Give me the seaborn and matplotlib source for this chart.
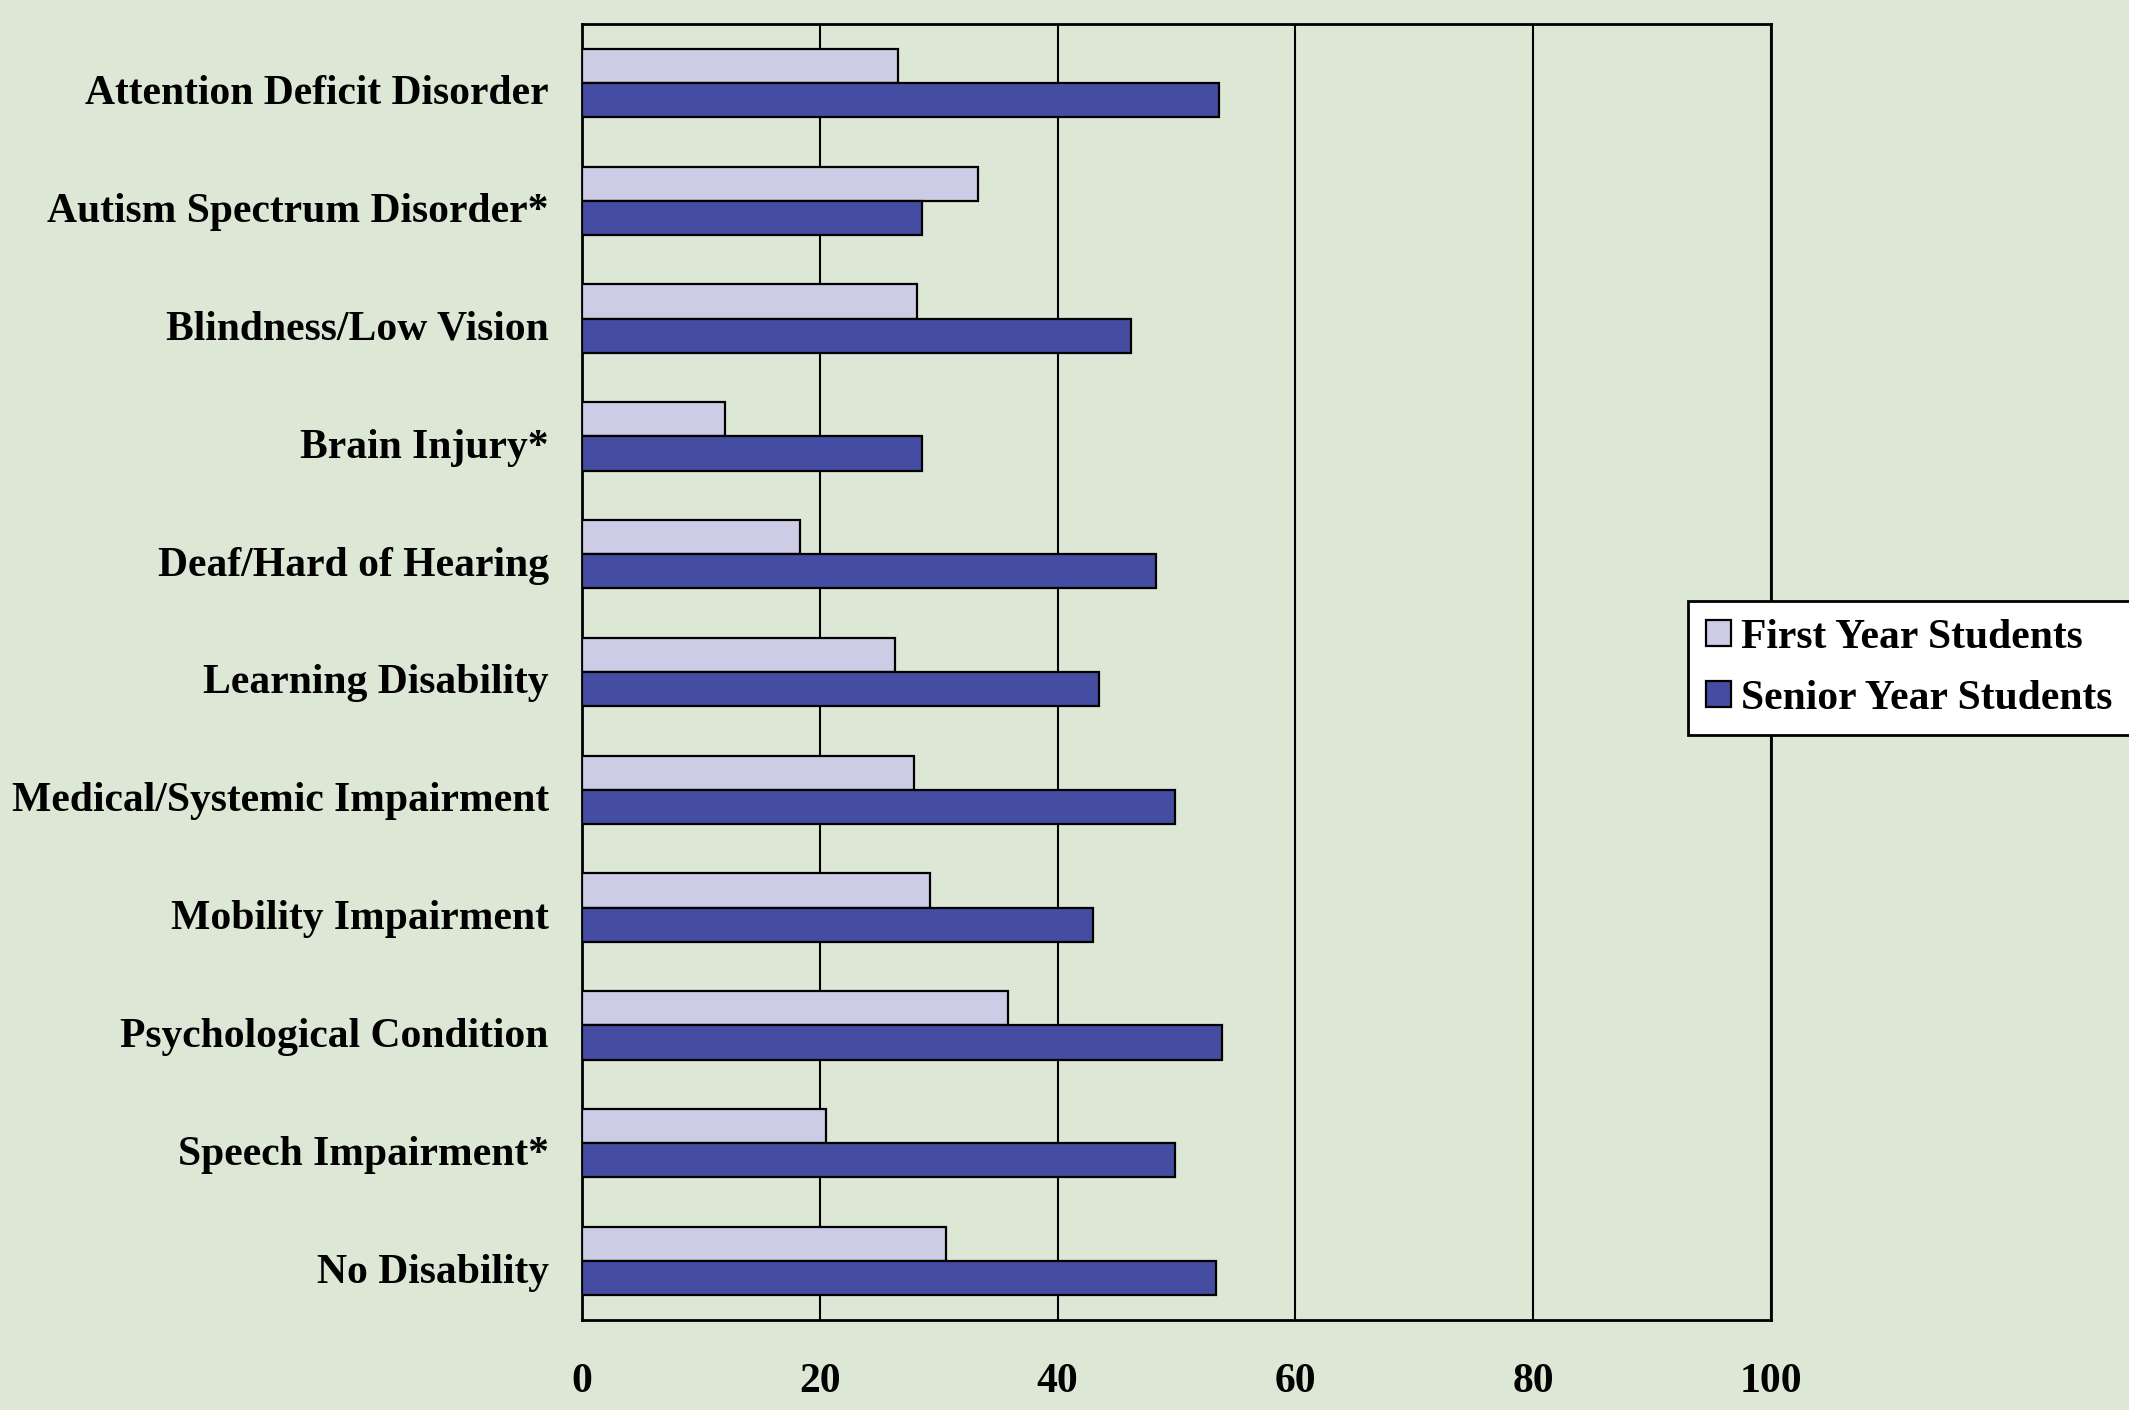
import pandas as pd
import matplotlib
matplotlib.use("Agg")
import matplotlib.pyplot as plt
import matplotlib.transforms as mtransforms
import seaborn as sns
import numpy as np

categories = [
    "Attention Deficit Disorder",
    "Autism Spectrum Disorder*",
    "Blindness/Low Vision",
    "Brain Injury*",
    "Deaf/Hard of Hearing",
    "Learning Disability",
    "Medical/Systemic Impairment",
    "Mobility Impairment",
    "Psychological Condition",
    "Speech Impairment*",
    "No Disability",
]
first_year = [26.6, 33.3, 28.2, 12.0, 18.3, 26.3, 27.9, 29.3, 35.8, 20.5, 30.6]
senior_year = [53.6, 28.6, 46.2, 28.6, 48.3, 43.5, 49.9, 43.0, 53.8, 49.9, 53.3]
groups = ["First Year Students", "Senior Year Students"]
xticks = [0, 20, 40, 60, 80, 100]

bg = "#DDE7D6"
palette = {"First Year Students": "#CDCCE7", "Senior Year Students": "#444DA1"}

df = pd.DataFrame({
    "Category": categories * 2,
    "Percent": first_year + senior_year,
    "Group": [groups[0]] * len(categories) + [groups[1]] * len(categories),
})

sns.set_style("white")
plt.rcParams["font.family"] = ["Liberation Serif", "DejaVu Serif"]
plt.rcParams["font.weight"] = "bold"
plt.rcParams["text.color"] = "black"
plt.rcParams["xtick.color"] = "black"
plt.rcParams["ytick.color"] = "black"

fig = plt.figure(figsize=(21.29, 14.10), dpi=100, facecolor=bg)
ax = fig.add_axes([0.2734, 0.0638, 0.5584, 0.9192])
ax.set_facecolor(bg)

sns.barplot(data=df, y="Category", x="Percent", hue="Group", order=categories,
            hue_order=groups, palette=palette, orient="h", width=0.58,
            edgecolor="black", linewidth=1.6, saturation=1, ax=ax, zorder=3)

ax.set_xlim(0, 100)
ax.set_ylim(len(categories) - 0.5, -0.5)
ax.set_xticks(xticks)
ax.set_xticklabels([str(t) for t in xticks], fontsize=30, fontweight="bold")
ax.tick_params(axis="x", length=15, width=1.5, color="black", pad=16, direction="out")
ax.set_yticks(range(len(categories)))
ax.set_yticklabels(categories, fontsize=30, fontweight="bold", va="center_baseline")
ax.tick_params(axis="y", which="major", length=0, pad=24)
ax.set_yticks(np.arange(-0.5, len(categories), 1.0), minor=True)
ax.tick_params(axis="y", which="minor", length=15, width=1.5, color="black", direction="out")
ax.xaxis.grid(True, color="black", linewidth=1.5, zorder=0)
ax.yaxis.grid(False)
ax.set_axisbelow(True)
ax.set_xlabel("")
ax.set_ylabel("")
for s in ax.spines.values():
    s.set_visible(True)
    s.set_color("black")
    s.set_linewidth(2)

# nudge category labels down a little, like the original
shift = mtransforms.ScaledTranslation(0, -5 / 72, fig.dpi_scale_trans)
for lab in ax.get_yticklabels():
    lab.set_transform(lab.get_transform() + shift)

handles, labels = ax.get_legend_handles_labels()
ax.legend_.remove()
leg = fig.legend(handles, labels, loc="center left", bbox_to_anchor=(0.793, 0.526),
                 prop={"family": ["Liberation Serif"], "weight": "bold", "size": 30},
                 frameon=True, fancybox=False, framealpha=1, facecolor="white",
                 edgecolor="black", handlelength=0.6, handleheight=0.6,
                 handletextpad=0.25, labelspacing=0.55, borderpad=0.42, borderaxespad=0)
leg.get_frame().set_linewidth(2)

fig.savefig("out.png", dpi=100, facecolor=bg)
